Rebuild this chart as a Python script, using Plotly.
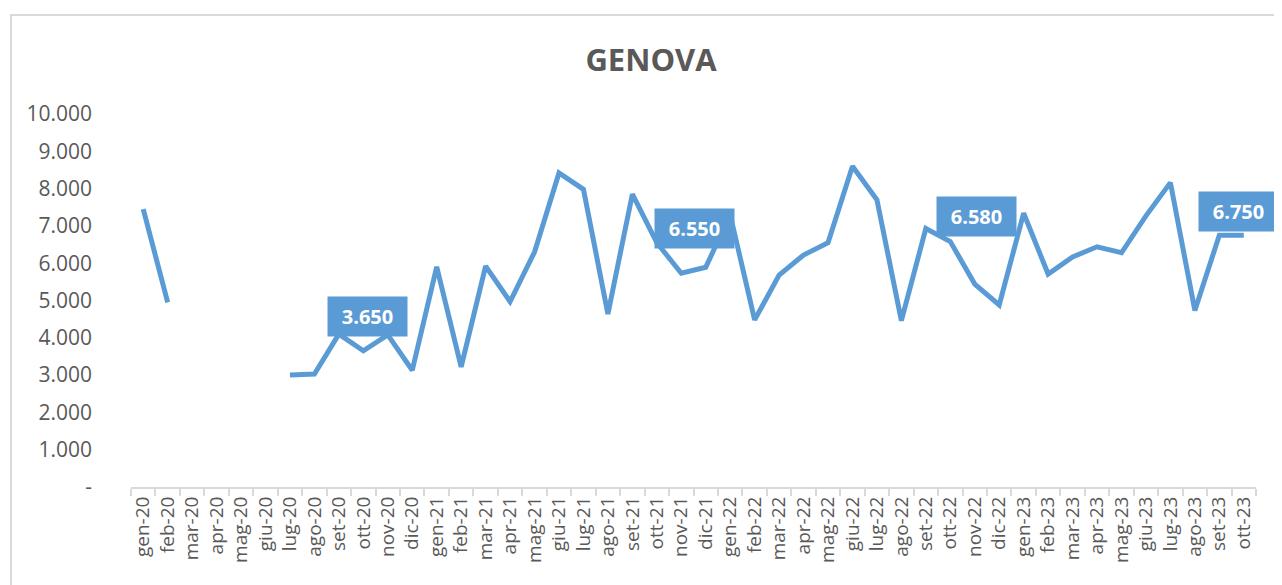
import plotly.graph_objects as go

months = ["gen", "feb", "mar", "apr", "mag", "giu", "lug", "ago", "set", "ott", "nov", "dic"]
categories = []
for yr in ["20", "21", "22", "23"]:
    for m in months:
        categories.append(f"{m}-{yr}")
categories = categories[:46]  # gen-20 .. ott-23

values = [
    7450, 4950, None, None, None, None, 3000, 3030, 4100, 3650, 4080, 3130,   # 2020
    5900, 3220, 5920, 4970, 6300, 8420, 7980, 4640, 7850, 6550, 5730, 5890,   # 2021
    7300, 4480, 5680, 6220, 6550, 8600, 7700, 4460, 6930, 6580, 5440, 4880,   # 2022
    7340, 5710, 6170, 6440, 6280, 7270, 8160, 4730, 6750, 6750,               # 2023
]

label_cats = ["ott-20", "ott-21", "ott-22", "ott-23"]
label_texts = ["3.650", "6.550", "6.580", "6.750"]
label_dx = [4, 38, 26, -5]
label_dy = [34, 14, 25, 24]

y_tickvals = [0, 1000, 2000, 3000, 4000, 5000, 6000, 7000, 8000, 9000, 10000]
y_ticktext = ["-", "1.000", "2.000", "3.000", "4.000", "5.000", "6.000", "7.000", "8.000", "9.000", "10.000"]

LINE = "#5b9bd5"
TXT = "#595959"
GRID = "#d9d9d9"

fig = go.Figure()
fig.add_trace(go.Scatter(
    x=categories, y=values, mode="lines",
    line=dict(color=LINE, width=5), connectgaps=False,
    hoverinfo="x+y",
))

for c, t, dx, dy in zip(label_cats, label_texts, label_dx, label_dy):
    v = values[categories.index(c)]
    fig.add_annotation(
        x=c, y=v, text=f"<b>{t}</b>", showarrow=False,
        xshift=dx, yshift=dy, bgcolor=LINE, width=77, height=37,
        font=dict(color="white", size=20, family="Open Sans"),
        xanchor="center", yanchor="middle",
    )

fig.update_layout(
    width=1282, height=585,
    margin=dict(l=123, r=34, t=106, b=106),
    paper_bgcolor="white", plot_bgcolor="white",
    showlegend=False,
    title=dict(text="<b>GENOVA</b>", x=643 / 1282, xref="container", y=1 - 52 / 585,
               yref="container", xanchor="center", yanchor="middle",
               font=dict(size=31, color=TXT, family="Open Sans")),
    font=dict(family="Open Sans", color=TXT),
    shapes=[
        dict(type="rect", xref="paper", yref="paper",
             x0=(11 - 131) / 1125, x1=(1300 - 131) / 1125,
             y0=(487 - 620) / 373, y1=(487 - 15) / 373,
             line=dict(color=GRID, width=2), layer="below"),
    ],
)

fig.update_xaxes(
    type="category", range=[-0.5, 45.5], showgrid=False,
    showline=True, linecolor=GRID, linewidth=2,
    ticks="outside", tickson="boundaries", ticklen=7, tickcolor=GRID, tickwidth=2,
    tickangle=-90, tickfont=dict(size=19, color=TXT, family="Open Sans"),
)
fig.update_yaxes(
    range=[0, 10000], showgrid=False, showline=False, zeroline=False,
    tickvals=y_tickvals, ticktext=y_ticktext, ticks="",
    ticklabelstandoff=38,
    tickfont=dict(size=21, color=TXT, family="Open Sans"),
)

fig.write_html("out.html")
